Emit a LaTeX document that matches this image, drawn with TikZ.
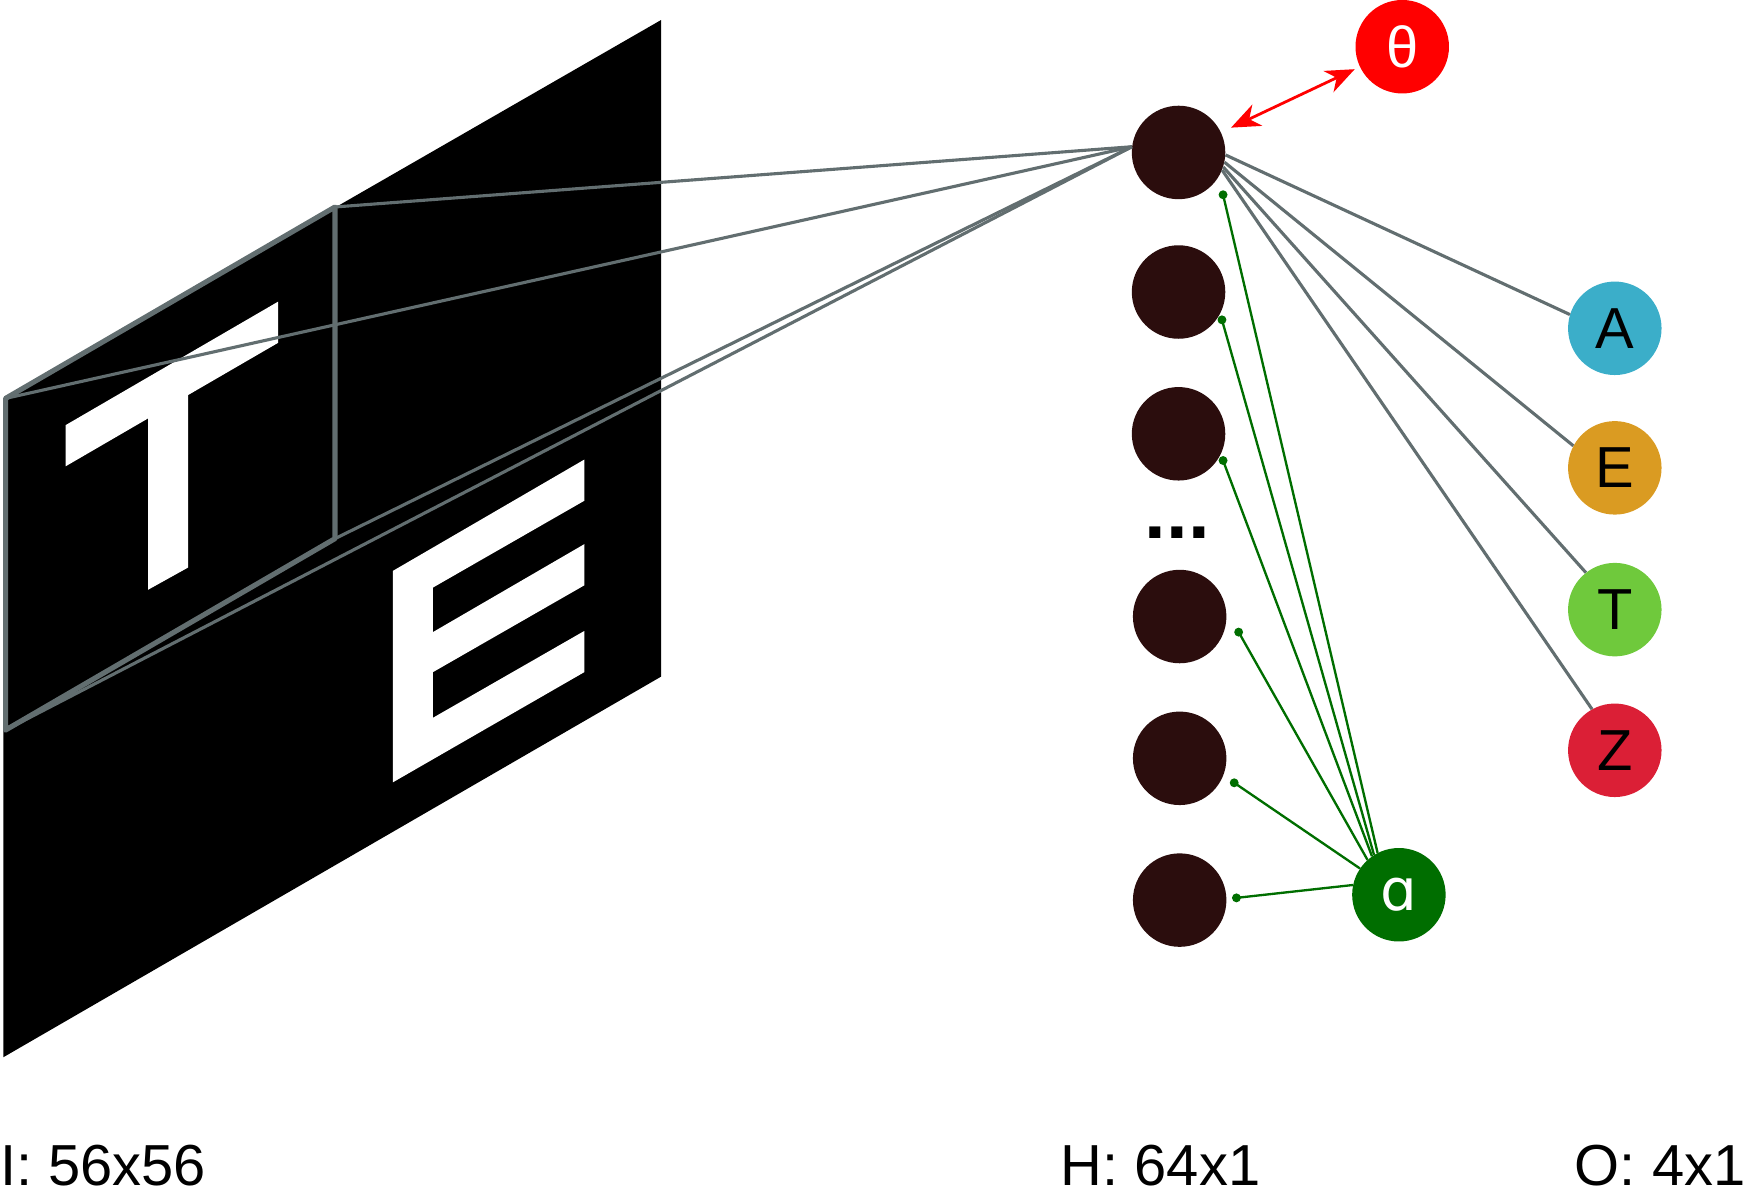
\documentclass[tikz,border=0pt]{standalone}
\usepackage{fontspec}
\setmainfont{Liberation Sans}
\newfontfamily\ipafont{DejaVu Sans}
\usepackage{xcolor}
\usetikzlibrary{arrows.meta, positioning, calc}

\definecolor{hiddencol}{RGB}{43,13,13}
\definecolor{linkgray}{RGB}{98,110,112}
\definecolor{attngreen}{RGB}{0,110,0}
\definecolor{paramred}{RGB}{255,0,0}
\definecolor{outA}{RGB}{59,174,201}
\definecolor{outE}{RGB}{218,155,34}
\definecolor{outT}{RGB}{111,201,60}
\definecolor{outZ}{RGB}{219,31,54}

\begin{document}
\begin{tikzpicture}[
    x=1pt, y=1pt,
    neuron/.style={circle, fill=hiddencol, minimum size=84pt, inner sep=0pt},
    outnode/.style={circle, minimum size=84pt, inner sep=0pt, font=\fontsize{52}{60}\selectfont},
    dimlabel/.style={anchor=base west, inner sep=0pt, font=\fontsize{52}{60}\selectfont},
    link/.style={draw=linkgray, line width=2.8pt},
    field/.style={draw=linkgray, line width=4.6pt, line join=round},
    attn/.style={draw=attngreen, line width=2.1pt},
    paramarrow/.style={draw=paramred, line width=2.5pt, {Stealth[length=26pt, width=21pt, inset=8pt]}-{Stealth[length=26pt, width=21pt, inset=8pt]}}
]
    \useasboundingbox (0,0) rectangle (1568,1074);

    % Input image
    \fill[black] (3,716) -- (594,1056) -- (594,466) -- (3,124) -- cycle;
    \fill[white] (59,692) -- (250,803) -- (250,766) -- (169,719) -- (169,564) -- (133,544) -- (133,698) -- (59,655) -- cycle;
    \fill[white] (353,561) -- (525,661) -- (525,624) -- (389,546) -- (389,506) -- (525,585) -- (525,548) -- (389,470)
        -- (389,429) -- (525,507) -- (525,470) -- (353,371) -- cycle;

    % Receptive field
    \coordinate (ftl) at (5,716);
    \coordinate (ftr) at (301,888);
    \coordinate (fbr) at (301,590);
    \coordinate (fbl) at (5,418);
    \draw[field] (ftl) -- (ftr) -- (fbr) -- (fbl) -- cycle;

    % Nodes
    \node[neuron] (h1) at (1059,937) {};
    \node[neuron, below=41pt of h1] (h2) {};
    \node[neuron, below=43pt of h2] (h3) {};
    \node[anchor=base, inner sep=0pt, font=\fontsize{70}{72}\selectfont\bfseries] (dots) at (1058,590) {...};
    \node[neuron] (h4) at (1060,520) {};
    \node[neuron, below=43pt of h4] (h5) {};
    \node[neuron, below=43pt of h5] (h6) {};

    \node[outnode, fill=paramred, text=white] (theta) at (1260,1032) {θ};
    \node[outnode, fill=attngreen, text=white, font=\fontsize{52}{60}\ipafont] (alpha) at (1257,270) {ɑ};

    \node[outnode, fill=outA] (A) at (1451,779) {A};
    \node[outnode, fill=outE, below=41pt of A] (E) {E};
    \node[outnode, fill=outT, below=43pt of E] (T) {T};
    \node[outnode, fill=outZ, below=42pt of T] (Z) {Z};

    % Labels
    \node[dimlabel] (inlabel) at (0,9) {I: 56x56};
    \node[dimlabel] (hidlabel) at (953,9) {H: 64x1};
    \node[dimlabel] (outlabel) at (1415,9) {O: 4x1};

    % Lines
    \draw[link] (ftr) -- (h1.173);
    \draw[link] (ftl) -- (h1.173);
    \draw[link] (fbr) -- (h1.173);
    \draw[link] (fbl) -- (h1.173);

    \draw[link] (h1.-3) -- (A.163);
    \draw[link] (h1.-12) -- (E.152);
    \draw[link] (h1.-18) -- (T.128);
    \draw[link] (h1.-22) -- (Z.119);

    % Attention lines
    \coordinate (d1) at ($(h1)+(40,-38)$);
    \coordinate (d2) at ($(h2)+(39,-25)$);
    \coordinate (d3) at ($(h3)+(40,-24)$);
    \coordinate (d4) at ($(h4)+(53,-14)$);
    \coordinate (d5) at ($(h5)+(49,-22)$);
    \coordinate (d6) at ($(h6)+(51,2)$);
    \draw[attn] (d1) -- (alpha.117);
    \draw[attn] (d2) -- (alpha.122);
    \draw[attn] (d3) -- (alpha.125);
    \draw[attn] (d4) -- (alpha.132);
    \draw[attn] (d5) -- (alpha.146);
    \draw[attn] (d6) -- (alpha.168);
    \fill[attngreen] (d1) circle (4) (d2) circle (4) (d3) circle (4)
        (d4) circle (4) (d5) circle (4) (d6) circle (4);

    % Parameter link
    \draw[paramarrow, shorten <=10pt, shorten >=5pt] (h1) -- (theta);

\end{tikzpicture}
\end{document}
